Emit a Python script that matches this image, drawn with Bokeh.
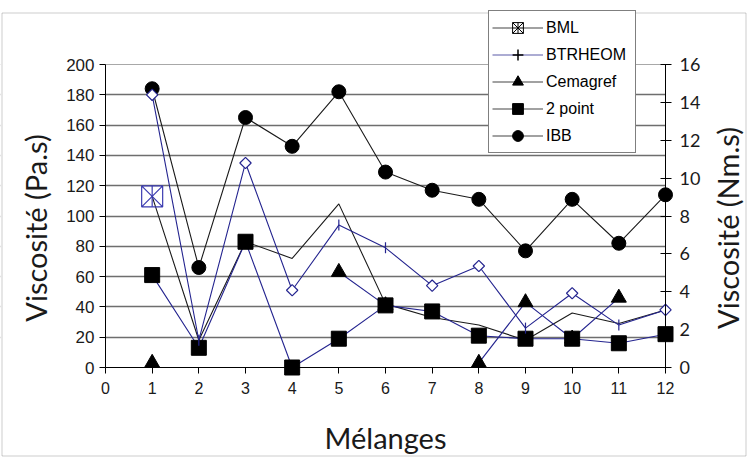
import numpy as np
from bokeh.plotting import figure
from bokeh.models import (Range1d, LinearAxis, FixedTicker, Legend, LegendItem, Grid,
                          BoxAnnotation, Label)
from bokeh.embed import file_html
from bokeh.resources import INLINE

nan = float("nan")

# ---- data ----
melanges = list(range(1, 13))
x_ticks = list(range(0, 13))
left_ticks = list(range(0, 201, 20))
right_ticks = list(range(0, 17, 2))

ibb = [184, 66, 165, 146, 182, 129, 117, 111, 77, 111, 82, 114]
two_point = [61, 13, 83, 0, 19, 41, 37, 21, 19, 19, 16, 22]
btrheom = [180, 18, 135, 51, 94, 79, 54, 67, 26, 49, 28, 38]
bml_line = [113, 18, 83, 72, 108, 42, 33, 28, 18, 36, 29, 38]
bml_x = [1]
bml_y = [113]
cemagref = [3, nan, nan, nan, 63, 41, nan, 3, 43, 19, 46, nan]
btrheom_diamond_at = [1, 3, 4, 7, 8, 10, 12]

NAVY = "#24248f"
BLACK = "#1a1a1a"

# ---- layout: the frame fills the whole figure, axes are drawn at fixed places ----
W, H = 748, 461
X0_PX, X12_PX = 105, 665      # pixel of mélange 0 and 12
Y0_PX, Y200_PX = 367, 64      # pixel of 0 and 200 Pa.s
X_MIN, X_MAX = x_ticks[0], x_ticks[-1]
Y_MIN, Y_MAX = left_ticks[0], left_ticks[-1]
R_MAX = right_ticks[-1]
ppx = (X12_PX - X0_PX) / (X_MAX - X_MIN)
ppy = (Y0_PX - Y200_PX) / (Y_MAX - Y_MIN)
xr = Range1d(X_MIN - X0_PX / ppx, X_MIN + (W - X0_PX) / ppx)
y_lo = Y_MIN - (H - Y0_PX) / ppy
y_hi = Y_MIN + Y0_PX / ppy
yr = Range1d(y_lo, y_hi)
k = R_MAX / Y_MAX


def px_x(px):
    return X_MIN + (px - X0_PX) / ppx


def px_y(py):
    return Y_MIN + (Y0_PX - py) / ppy


p = figure(width=W, height=H, output_backend="svg", toolbar_location=None,
           x_range=xr, y_range=yr,
           min_border_left=0, min_border_right=0, min_border_top=0, min_border_bottom=0)
p.extra_y_ranges = {"right": Range1d(y_lo * k, y_hi * k)}

p.outline_line_color = None
p.background_fill_color = "white"
p.xgrid.grid_line_color = None
p.ygrid.ticker = FixedTicker(ticks=left_ticks[1:-1])
p.ygrid.grid_line_color = "#6e6e6e"
p.ygrid.grid_line_width = 1.6
p.add_layout(Grid(dimension=1, ticker=FixedTicker(ticks=left_ticks[-1:]),
                  grid_line_color="#a8a8a8", grid_line_width=1.2))
# keep grid lines between the two value axes
p.add_layout(BoxAnnotation(right=X_MIN, fill_color="white", fill_alpha=1, line_alpha=0, level="underlay"))
p.add_layout(BoxAnnotation(left=X_MAX, fill_color="white", fill_alpha=1, line_alpha=0, level="underlay"))
# chart-area border
p.add_layout(BoxAnnotation(left=px_x(1.5), right=px_x(745.5), top=px_y(12.5), bottom=px_y(455.5),
                           fill_alpha=0, line_color="#555555", line_width=1, level="underlay"))


def style_axis(ax, tick_font, tick_size):
    ax.axis_line_color = "black"
    ax.axis_line_width = 1
    ax.major_tick_line_color = "black"
    ax.minor_tick_line_color = None
    ax.major_tick_out = 6
    ax.major_tick_in = 0
    ax.major_label_text_font = tick_font
    ax.major_label_text_font_size = tick_size
    ax.major_label_text_color = BLACK


xa = p.xaxis[0]
xa.ticker = FixedTicker(ticks=x_ticks)
xa.bounds = (X_MIN, X_MAX)
xa.fixed_location = Y_MIN
style_axis(xa, "Liberation Sans", "16px")
xa.major_label_standoff = 8

ya = p.yaxis[0]
ya.ticker = FixedTicker(ticks=left_ticks)
ya.bounds = (Y_MIN, Y_MAX)
ya.fixed_location = X_MIN
style_axis(ya, "Liberation Sans", "17px")
ya.major_label_standoff = 5

ra = LinearAxis(y_range_name="right", ticker=FixedTicker(ticks=right_ticks),
                bounds=(0, R_MAX), fixed_location=X_MAX)
style_axis(ra, "Lato", "18px")
ra.major_tick_in = 5
ra.major_label_standoff = 8
p.add_layout(ra, "right")

LBL = dict(text_font="Lato", text_font_size="29px", text_color=BLACK,
           text_align="center", text_baseline="middle")
p.add_layout(Label(x=(X_MIN + X_MAX) / 2, y=Y_MIN, y_offset=-70, text="Mélanges", **LBL))
p.add_layout(Label(x=X_MIN, y=(Y_MIN + Y_MAX) / 2, x_offset=-70, y_offset=-12,
                   text="Viscosité (Pa.s)", angle=np.pi / 2, **LBL))
p.add_layout(Label(x=X_MAX, y=(Y_MIN + Y_MAX) / 2, x_offset=62, y_offset=-12,
                   text="Viscosité (Nm.s)", angle=np.pi / 2, **LBL))

# ---- lines ----
p.line(melanges, ibb, line_color=BLACK, line_width=1.1)
p.line(melanges, bml_line, line_color=BLACK, line_width=1.1)
p.line(melanges, btrheom, line_color=NAVY, line_width=1.1)
p.line(melanges, two_point, line_color=NAVY, line_width=1.1)
p.line(melanges, cemagref, line_color=NAVY, line_width=1.1)

# ---- markers ----
cx = [m for m, v in zip(melanges, cemagref) if not np.isnan(v)]
cy = [v for v in cemagref if not np.isnan(v)]
p.scatter(cx, cy, marker="triangle", size=15, color="black")
p.scatter(melanges, two_point, marker="square", size=15, color="black")
p.scatter(melanges, ibb, marker="circle", size=14, color="black")

dx = [m for m in melanges if m in btrheom_diamond_at]
dy = [v for m, v in zip(melanges, btrheom) if m in btrheom_diamond_at]
tx = [m for m in melanges if m not in btrheom_diamond_at]
ty = [v for m, v in zip(melanges, btrheom) if m not in btrheom_diamond_at]
p.scatter(dx, dy, marker="square", angle=np.pi / 4, size=8, fill_color="white",
          line_color=NAVY, line_width=1.2)
p.scatter(tx, ty, marker="dash", angle=np.pi / 2, size=11, line_color=NAVY, line_width=1.2)

p.scatter(bml_x, bml_y, marker="square_x", size=21, fill_color=None, line_color="#3a3ab0", line_width=1.2)
p.scatter(bml_x, bml_y, marker="dash", angle=np.pi / 2, size=21, line_color="#3a3ab0", line_width=1.2)

# ---- legend (style samples) ----
LG = "#444444"


def sample_line(color):
    return p.line([nan], [nan], line_color=color, line_width=1.2)


l_bml = [sample_line(LG),
         p.scatter([nan], [nan], marker="square_x", fill_color="white", line_color="black"),
         p.scatter([nan], [nan], marker="cross", line_color="black")]
l_btr = [sample_line("#5a5aa8"),
         p.scatter([nan], [nan], marker="cross", line_color="black", line_width=1.5)]
l_cem = [sample_line(LG), p.scatter([nan], [nan], marker="triangle", color="black")]
l_two = [sample_line(LG), p.scatter([nan], [nan], marker="square", color="black")]
l_ibb = [sample_line(LG), p.scatter([nan], [nan], marker="circle", color="black")]

legend = Legend(items=[LegendItem(label="BML", renderers=l_bml),
                       LegendItem(label="BTRHEOM", renderers=l_btr),
                       LegendItem(label="Cemagref", renderers=l_cem),
                       LegendItem(label="2 point", renderers=l_two),
                       LegendItem(label="IBB", renderers=l_ibb)],
                location=(488, H - 153), orientation="vertical",
                glyph_width=51, glyph_height=27, spacing=0, padding=3, margin=0,
                label_standoff=3, label_height=20, label_width=86,
                label_text_font="Liberation Sans", label_text_font_size="16px",
                label_text_color="black", border_line_color="black", border_line_width=1,
                background_fill_color="white", background_fill_alpha=1)
p.add_layout(legend, "center")

open("out.html", "w").write(file_html(p, INLINE))
